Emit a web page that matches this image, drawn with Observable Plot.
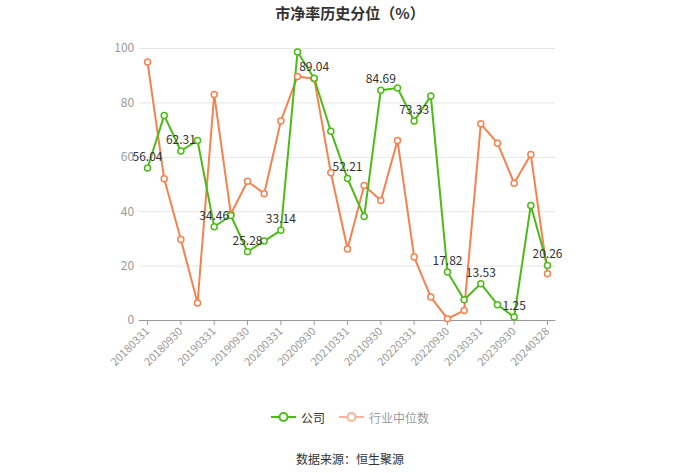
<!DOCTYPE html>
<html><head><meta charset="utf-8">
<script src="https://cdn.jsdelivr.net/npm/d3@7"></script>
<script src="https://cdn.jsdelivr.net/npm/@observablehq/plot@0.6"></script>
<style>
body{margin:0;background:#fff;font-family:"Noto Sans CJK SC","Noto Sans",sans-serif;width:700px;}
#title{height:25px;line-height:25px;text-align:center;font-size:15px;font-weight:bold;color:#333;}
#legend{height:30px;margin-top:2px;display:flex;justify-content:center;align-items:center;font-size:12px;gap:14px;}
#legend span.item{display:flex;align-items:center;gap:5px;}
#footer{text-align:center;font-size:12px;color:#333;margin-top:18px;}
svg{display:block;}
</style></head><body>
<div id="title">市净率历史分位（%）</div>
<div id="chart"></div>
<div id="legend"></div>
<div id="footer">数据来源：恒生聚源</div>
<script>
const dates = ["20180331","20180630","20180930","20181231","20190331","20190630","20190930","20191231","20200331","20200630","20200930","20201231","20210331","20210630","20210930","20211231","20220331","20220630","20220930","20221231","20230331","20230630","20230930","20231231","20240328"];
const company = [56.04,75.4,62.31,66.2,34.46,38.6,25.28,29.2,33.14,98.7,89.04,69.6,52.21,38.2,84.69,85.5,73.33,82.5,17.82,7.6,13.53,5.8,1.25,42.3,20.26];
const industry = [95.0,52.1,29.8,6.4,83.1,39.2,51.2,46.6,73.3,89.7,88.9,54.3,26.3,49.6,44.1,66.2,23.3,8.6,0.6,3.7,72.3,65.2,50.5,61.0,17.2];
const tickDates = dates.filter((d,i)=>i%2===0);
const yTicks = [0,20,40,60,80,100];
const seriesNames = ["公司","行业中位数"];
const green = "#4cbb17", orange = "#f4824f";

const comp = dates.map((d,i)=>({date:d,v:company[i],i}));
const ind = dates.map((d,i)=>({date:d,v:industry[i],i}));
const labeled = comp.filter(d=>d.i%2===0);

const chart = Plot.plot({
  width:700, height:375,
  marginLeft:138.7, marginRight:144.7, marginTop:23, marginBottom:80,
  style:{fontFamily:"'Noto Sans CJK SC','Noto Sans',sans-serif", fontSize:"12px", color:"#999"},
  x:{type:"point", domain:dates, padding:0.5, round:false},
  y:{domain:[0,100]},
  marks:[
    Plot.gridY(yTicks,{stroke:"#e6e6e6", strokeOpacity:1}),
    Plot.axisY(yTicks,{tickSize:0, tickPadding:5, fill:"#999", fontSize:12, label:null}),
    Plot.ruleY([0],{stroke:"#999"}),
    Plot.axisX(tickDates,{tickSize:5, stroke:"#999", tickRotate:-45, fill:"#999", fontSize:11, label:null, tickPadding:4}),
    Plot.line(ind,{x:"date",y:"v",stroke:orange,strokeWidth:2}),
    Plot.line(comp,{x:"date",y:"v",stroke:green,strokeWidth:2}),
    Plot.dot(ind,{x:"date",y:"v",r:3,stroke:orange,fill:"#fff",strokeWidth:1.5}),
    Plot.dot(comp,{x:"date",y:"v",r:3,stroke:green,fill:"#fff",strokeWidth:1.5}),
    Plot.text(labeled,{x:"date",y:"v",text:d=>d.v.toFixed(2),dy:-11,fill:"#333",fontSize:12})
  ]
});
document.getElementById("chart").appendChild(chart);

const leg = document.getElementById("legend");
const legColors = [green, "#f5b497"];
const legText = ["#333","#999"];
seriesNames.forEach((n,k)=>{
  const s = document.createElement("span"); s.className="item";
  s.innerHTML = `<svg width="25" height="14"><line x1="0" y1="7" x2="25" y2="7" stroke="${legColors[k]}" stroke-width="2"/><circle cx="12.5" cy="7" r="4" fill="#fff" stroke="${legColors[k]}" stroke-width="2"/></svg><span style="color:${legText[k]}">${n}</span>`;
  leg.appendChild(s);
});
</script>
</body></html>
